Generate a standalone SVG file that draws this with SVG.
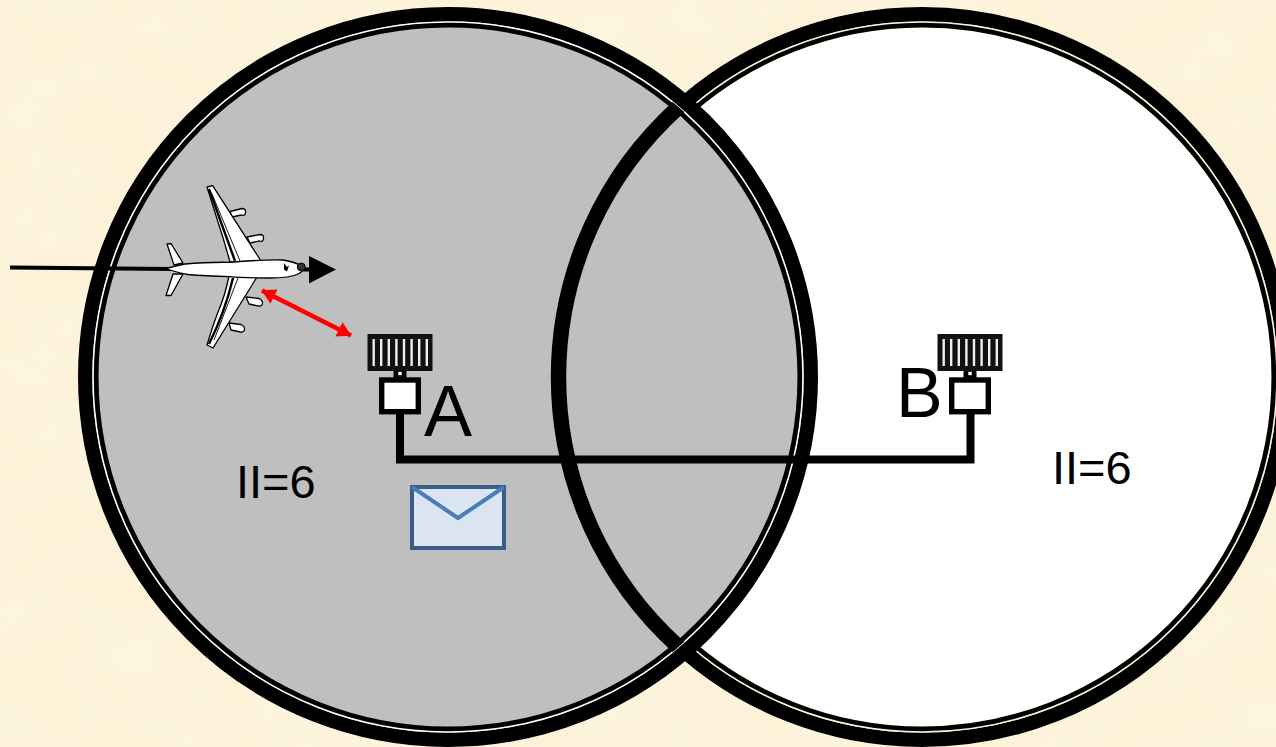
<svg xmlns="http://www.w3.org/2000/svg" width="1276" height="747" viewBox="0 0 1276 747">
<style>
text{font-family:"Liberation Sans",Arial,sans-serif;fill:#000}
.ant{fill:#111}.bar{fill:#eee}.plane{fill:#fff;stroke:#000;stroke-width:1.3;stroke-linejoin:round}
.wire{fill:none;stroke:#000;stroke-width:8;stroke-linejoin:miter}
.outer{stroke:#000;stroke-width:14.4}.inner{fill:none;stroke:#000;stroke-width:4.7}
</style>
<defs>
<filter id="paper" x="0" y="0" width="100%" height="100%">
<feTurbulence type="fractalNoise" baseFrequency="0.012 0.02" numOctaves="4" seed="7"/>
<feColorMatrix values="0 0 0 0 1  0 0 0 0 0.96  0 0 0 0 0.86  0.9 0 0 0 -0.36"/>
</filter>
<clipPath id="inLeft"><circle cx="448" cy="377" r="355"/></clipPath>
<marker id="red" viewBox="0 0 14 16" refX="13.500" refY="8" markerWidth="14" markerHeight="16" orient="auto-start-reverse" markerUnits="userSpaceOnUse"><path d="M0 0L14 8L0 16z" fill="#f00"/></marker>
<g id="antenna">
<rect class="ant" x="367.5" y="334" width="65" height="37"/>
<g class="bar"><rect x="372.5" y="339" width="2.4" height="27"/><rect x="380" y="339" width="2.4" height="27"/><rect x="387.6" y="339" width="2.4" height="27"/><rect x="395.2" y="339" width="2.4" height="27"/><rect x="402.8" y="339" width="2.4" height="27"/><rect x="410.4" y="339" width="2.4" height="27"/><rect x="418" y="339" width="2.4" height="27"/><rect x="425.6" y="339" width="2.4" height="27"/></g>
<rect x="393.5" y="371" width="13" height="7" fill="#000"/><rect x="398.3" y="371.8" width="3.4" height="3.4" fill="#fff"/>
<rect x="381.7" y="380" width="36.6" height="31.7" fill="#fff" stroke="#000" stroke-width="5.4"/>
</g>
</defs>
<rect width="1276" height="747" fill="#fdf2d8"/>
<rect width="1276" height="747" filter="url(#paper)"/>

<g id="circle-b">
<circle class="outer" cx="922" cy="377" r="362.8" fill="#fff"/>
<circle cx="922" cy="377" r="355" fill="none" stroke="#fbeed2" stroke-width="1.5"/>
<circle class="inner" cx="922" cy="377" r="351.8"/>
</g>
<g id="circle-a">
<circle class="outer" cx="448" cy="377" r="362.8" fill="#bfbfbf"/>
<circle cx="448" cy="377" r="355" fill="none" stroke="#fff" stroke-width="1.5"/>
<circle class="inner" cx="448" cy="377" r="351.8"/>
</g>
<g id="circle-b-overlap" clip-path="url(#inLeft)"><circle cx="922" cy="377" r="363.5" fill="none" stroke="#000" stroke-width="15.4"/></g>

<g id="connectors">
<path class="wire" d="M400 412V459.5H970.5V412"/>
<path d="M10 267.5L172 269" fill="none" stroke="#000" stroke-width="3.8"/>
<path d="M300 269.5H312" fill="none" stroke="#000" stroke-width="4"/>
<path d="M309 256L336 269.5L309 283.5z" fill="#000"/>
<path d="M262 290.5L351 335.5" fill="none" stroke="#f00" stroke-width="4.6" marker-start="url(#red)" marker-end="url(#red)"/>
</g>

<g id="airplane">
<g class="plane">
<path d="M230 211.500l12-3q4 0 3.500 4t-4 2.500l-9.500 2z"/>
<path d="M247 237l13-2.500q4 0 3.500 4t-4 2.500l-9.500 2z"/>
<path d="M246 297l13 1.500q4 2 3.500 5t-4 2.500l-9.500-2z"/>
<path d="M229 323l12 1.500q4 2 3.500 5t-4 2.500l-9.500-2z"/>
<path d="M207 187L212.700 185.700L261 261L230 262Q224 240 218 222Q212 203 207 187z"/>
<path d="M229 276L257 277L213 348L207 345Q213 325 218 312Q225 296 229 276z"/>
<path d="M212 194L240 261M214 340L238 278" fill="none" stroke-width=".9"/>
<path d="M209 189Q222 225 235 261M209 344Q225 312 233 278" fill="none" stroke-width="2.400"/>
<path d="M167 244L171 243.500L183 263L174 265z"/>
<path d="M173 274L183 274L171 295.500L166 295.500z"/>
<path d="M166 268.500Q175 266 185 264Q205 262 230 262.300Q262 259.500 283 260Q296 262 303 267Q303 272 298 274Q290 278 270 278Q240 278 230 276.700Q205 276 188 274.500Q175 272 166 268.500z"/>
</g>
<path d="M284 263l3 4l2-1.500l-2 6l-3-2z" fill="#000"/>
<circle cx="301.300" cy="267" r="4" fill="#333" stroke="#000"/>
</g>

<g id="node-a">
<use href="#antenna"/>
<text x="424" y="436" font-size="72">A</text>
</g>
<g id="node-b">
<use href="#antenna" x="570"/>
<text x="896" y="417" font-size="70">B</text>
</g>
<text id="label-left" x="236" y="498" font-size="47">II=6</text>
<text id="label-right" x="1052" y="484" font-size="47">II=6</text>
<g id="envelope">
<rect x="412" y="487" width="92" height="61" fill="#dbe5f1" stroke="#385d8a" stroke-width="4"/>
<path d="M412 487L458 518L504 487" fill="none" stroke="#4a7ebb" stroke-width="4"/>
</g>
</svg>
